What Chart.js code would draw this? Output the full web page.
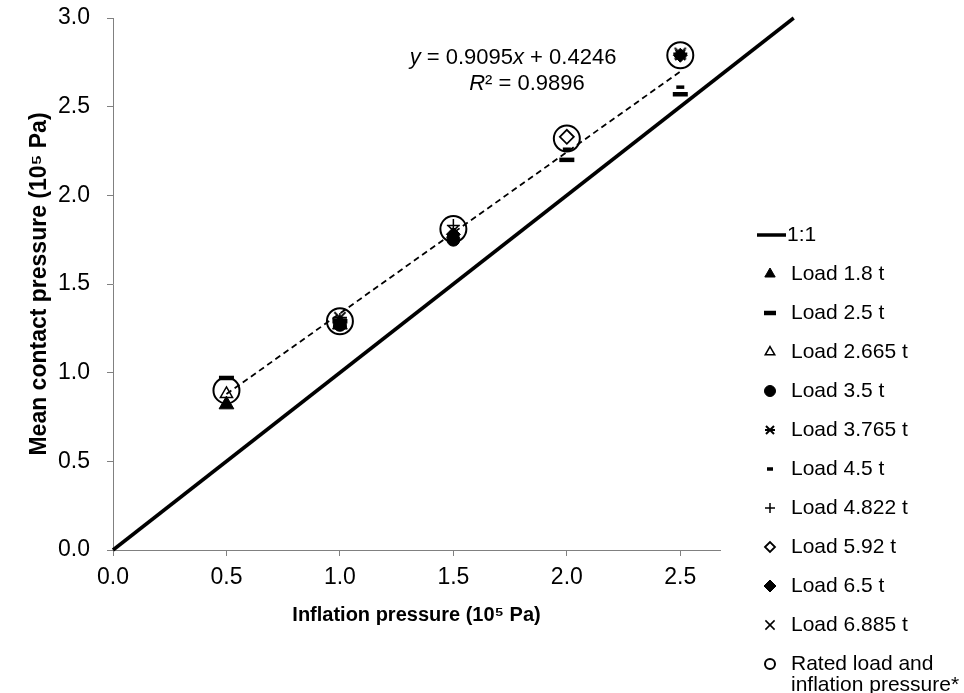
<!DOCTYPE html>
<html>
<head>
<meta charset="utf-8">
<script src="https://cdn.jsdelivr.net/npm/chart.js@4"></script>
<style>
  body { margin: 0; background: #fff; }
  canvas { display: block; }
</style>
</head>
<body>
<canvas id="grafico" width="964" height="693"></canvas>
<script>
// Inflation pressure (10^5 Pa) at which each load was tested
const pressures = [0.5, 1.0, 1.5, 2.0, 2.5];

// Mean contact pressure per load, null where not tested
const load18   = [0.82, 1.27, null, null, null];
const load25   = [0.97, 1.29, null, 2.20, 2.57];
const load2665 = [0.88, 1.28, null, null, null];
const load35   = [null, 1.27, 1.75, null, null];
const load3765 = [null, 1.31, null, null, 2.80];
const load45   = [null, null, 1.79, 2.26, 2.61];
const load4822 = [null, 1.30, 1.83, null, null];
const load592  = [null, null, null, 2.33, null];
const load65   = [null, null, 1.78, null, 2.79];
const load6885 = [null, null, 1.80, null, 2.79];
const rated    = [0.90, 1.29, 1.81, 2.32, 2.79];

// Trend line coefficients and R²
const slope = 0.9095;
const intercept = 0.4246;
const r2 = 0.9896;

const xTicks = [0, 0.5, 1.0, 1.5, 2.0, 2.5];
const FONT = "'Liberation Sans', Arial, sans-serif";

const pts = vals => pressures.map((x, i) => ({ x, y: vals[i] })).filter(p => p.y !== null);

// asterisk marker: an x with a bar through the middle
function asterisk(r, lw) {
  const c = document.createElement('canvas');
  const s = Math.ceil(2 * r + lw + 2);
  c.width = c.height = s;
  const g = c.getContext('2d');
  const m = s / 2, d = r * 0.8;
  g.strokeStyle = '#000';
  g.lineWidth = lw;
  g.beginPath();
  g.moveTo(m - d, m - d); g.lineTo(m + d, m + d);
  g.moveTo(m + d, m - d); g.lineTo(m - d, m + d);
  g.moveTo(m - r, m); g.lineTo(m + r, m);
  g.stroke();
  return c;
}

// marker look for each series (plot size, legend size)
const series = [
  { label: 'Load 1.8 t',   data: load18,   style: 'triangle', r: 8.5, lr: 6,   fill: true,  bw: 1 },
  { label: 'Load 2.5 t',   data: load25,   style: 'line',     r: 7.5, lr: 6,   fill: false, bw: 4.5 },
  { label: 'Load 2.665 t', data: load2665, style: 'triangle', r: 7,   lr: 5.5, fill: false, bw: 1.5 },
  { label: 'Load 3.5 t',   data: load35,   style: 'circle',   r: 6.5, lr: 5.5, fill: true,  bw: 1 },
  { label: 'Load 3.765 t', data: load3765, style: asterisk(7, 2), legendStyle: asterisk(5, 2), r: 7, lr: 5, fill: false, bw: 2 },
  { label: 'Load 4.5 t',   data: load45,   style: 'line',     r: 4,   lr: 3,   fill: false, bw: 3.5 },
  { label: 'Load 4.822 t', data: load4822, style: 'cross',    r: 6.5, lr: 5,   fill: false, bw: 1.5 },
  { label: 'Load 5.92 t',  data: load592,  style: 'rectRot',  r: 7,   lr: 5,   fill: false, bw: 1.8 },
  { label: 'Load 6.5 t',   data: load65,   style: 'rectRot',  r: 7,   lr: 6,   fill: true,  bw: 1 },
  { label: 'Load 6.885 t', data: load6885, style: 'crossRot', r: 7,   lr: 6.5, fill: false, bw: 1.5 },
  { label: ['Rated load and', 'inflation pressure*'], data: rated, style: 'circle', r: 13, lr: 5, fill: false, bw: 2 }
];

const datasets = [
  {
    type: 'line', label: '1:1',
    data: [{ x: 0, y: 0 }, { x: 3, y: 3 }],
    borderColor: '#000', borderWidth: 3.5, pointRadius: 0, clip: false, order: 20
  },
  {
    type: 'line', label: 'fit',
    data: [0.5, 2.5].map(x => ({ x, y: slope * x + intercept })),
    borderColor: '#000', borderWidth: 1.8, borderDash: [6, 4], pointRadius: 0, order: 19
  }
];
series.forEach(s => {
  datasets.push({
    type: 'scatter', label: s.label, data: pts(s.data),
    pointStyle: s.style, pointRadius: s.r, pointHoverRadius: s.r,
    pointBorderWidth: s.bw, borderColor: '#000',
    backgroundColor: s.fill ? '#000' : 'rgba(0,0,0,0)'
  });
});

// legend down the right side and the regression text
const extras = {
  id: 'extras',
  afterDraw(chart) {
    const ctx = chart.ctx;
    ctx.save();
    ctx.fillStyle = '#000';
    ctx.strokeStyle = '#000';
    ctx.textBaseline = 'middle';
    ctx.font = '21px ' + FONT;

    // 1:1 line entry
    let y = 235;
    ctx.lineWidth = 3.5;
    ctx.beginPath(); ctx.moveTo(757, y); ctx.lineTo(786, y); ctx.stroke();
    ctx.fillText('1:1', 787, y);

    series.forEach(s => {
      y += 39;
      ctx.lineWidth = s.bw;
      ctx.fillStyle = s.fill ? '#000' : 'rgba(0,0,0,0)';
      Chart.helpers.drawPoint(ctx, { pointStyle: s.legendStyle || s.style, radius: s.lr, rotation: 0, borderWidth: s.bw }, 770, y);
      ctx.fillStyle = '#000';
      const lines = Array.isArray(s.label) ? s.label : [s.label];
      lines.forEach((t, i) => ctx.fillText(t, 791, y + i * 21));
    });

    // equation, italic variables, each line centred
    const runs = (parts, cx, yy) => {
      const w = parts.map(([t, it]) => {
        ctx.font = (it ? 'italic ' : '') + '22px ' + FONT;
        return ctx.measureText(t).width;
      });
      let x = cx - w.reduce((a, b) => a + b, 0) / 2;
      parts.forEach(([t, it], i) => {
        ctx.font = (it ? 'italic ' : '') + '22px ' + FONT;
        ctx.fillText(t, x, yy);
        x += w[i];
      });
    };
    ctx.textAlign = 'left';
    runs([['y', 1], [' = ' + slope.toFixed(4), 0], ['x', 1], [' + ' + intercept.toFixed(4), 0]], 513, 58);
    runs([['R', 1], ['² = ' + r2.toFixed(4), 0]], 527, 84);
    ctx.restore();
  }
};

new Chart(document.getElementById('grafico').getContext('2d'), {
  data: { datasets },
  plugins: [extras],
  options: {
    responsive: false,
    devicePixelRatio: 1,
    animation: false,
    layout: { padding: { top: 18, right: 244, left: 0, bottom: 0 } },
    plugins: { legend: { display: false }, tooltip: { enabled: false } },
    scales: {
      x: {
        type: 'linear', min: 0, max: 2.675,
        afterBuildTicks: scale => { scale.ticks = xTicks.map(v => ({ value: v })); },
        afterFit: scale => { scale.height = 143; scale.paddingLeft = 0; scale.paddingRight = 0; },
        grid: { drawOnChartArea: false, color: '#808080', tickLength: 6 },
        border: { color: '#808080', width: 1 },
        ticks: { color: '#000', font: { size: 23, family: FONT }, padding: 8, callback: v => v.toFixed(1), maxRotation: 0 },
        title: { display: true, text: 'Inflation pressure (10⁵ Pa)', color: '#000',
                 font: { size: 20, weight: 'bold', family: FONT }, padding: { top: 0, bottom: 66 } }
      },
      y: {
        min: 0, max: 3,
        ticks: { stepSize: 0.5, color: '#000', font: { size: 23, family: FONT }, padding: 17, callback: v => v.toFixed(1) },
        afterFit: scale => { scale.width = 113; scale.paddingTop = 0; scale.paddingBottom = 0; },
        grid: { drawOnChartArea: false, color: '#808080', tickLength: 6 },
        border: { color: '#808080', width: 1 },
        title: { display: true, text: 'Mean contact pressure (10⁵ Pa)', color: '#000',
                 font: { size: 23, weight: 'bold', family: FONT }, padding: { top: 26, bottom: 0 } }
      }
    }
  }
});
</script>
</body>
</html>
